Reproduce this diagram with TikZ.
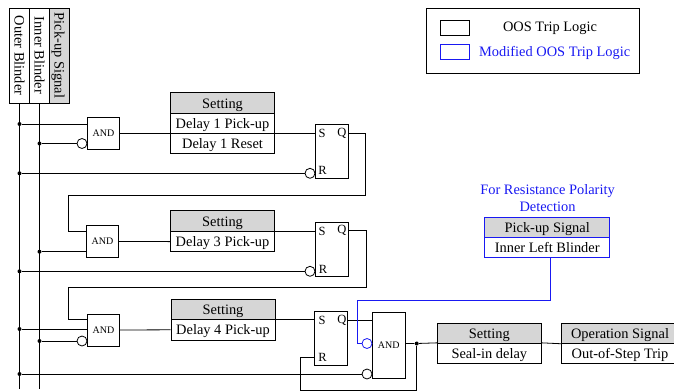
\documentclass[tikz,border=0pt]{standalone}
\usepackage{fontspec}
\setmainfont{Liberation Serif}
\usepackage{xcolor}
\definecolor{hdgray}{gray}{0.84}
\definecolor{modblue}{rgb}{0.1,0.1,0.95}
\tikzset{
  every node/.style={font=\fontsize{14.4}{17}\selectfont},
  lbl/.style={text height=13pt,text depth=3pt,inner sep=0pt},
  blinder/.style={lbl,draw,rotate=-90,minimum width=95pt,minimum height=20pt},
  andbox/.style={draw,minimum width=32pt,minimum height=32pt,inner sep=0pt,font=\fontsize{10}{12}\selectfont},
  srbox/.style={draw,minimum width=33pt,minimum height=54pt,inner sep=0pt},
  hdbox/.style={lbl,draw,fill=hdgray,minimum width=104pt,minimum height=20.3pt},
  rowbox/.style={lbl,draw,minimum width=104pt,minimum height=20.3pt},
  bubble/.style={draw,circle,fill=white,minimum size=10pt,inner sep=0pt},
  dot/.style={circle,fill=black,minimum size=4pt,inner sep=0pt},
  port/.style={inner sep=0pt,font=\fontsize{12.5}{14}\selectfont},
}
\begin{document}
\begin{tikzpicture}[x=1pt,y=-1pt,line width=0.8pt]
      \useasboundingbox (0,0) rectangle (674,391);
      \node (OB) [blinder] at (19.5,55.5) {Outer Blinder};
      \node (IB) [blinder] at (39.5,55.5) {Inner Blinder};
      \node (PS) [blinder,fill=hdgray] at (59.5,55.5) {Pick-up Signal};
      \coordinate (OBend) at (19.5,389);
      \coordinate (IBend) at (39.5,389);
      \draw (OB.east) -- (OBend);
      \draw (IB.east) -- (IBend);
%%
      \node (AND1) [andbox] at (103.5,133) {AND};
      \node (B1) [bubble] at (82,143.5) {};
      \node (D1) [dot] at (19.5,124) {};
      \node (D2) [dot] at (39.5,143.5) {};
      \node (D3) [dot] at (19.5,173.3) {};
      \node (T1) [hdbox] at (222.5,103) {Setting};
      \node (T1a) [rowbox] at (222.5,123.3) {Delay 1 Pick-up};
      \node (T1b) [rowbox] at (222.5,143.6) {Delay 1 Reset};
      \node (SR1) [srbox] at (331.5,151.3) {};
      \node (S1) [port] at (322,133) {S};
      \node (Q1) [port] at (342,133) {Q};
      \node (R1) [port] at (322.5,170) {R};
      \node (BR1) [bubble] at (310,173.3) {};
      \draw (D1) -- (D1 -| AND1.west);
      \draw (D2) -- (B1);
      \draw (D3) -- (BR1);
      \draw (AND1.east) -- (AND1.east -| SR1.west);
      \coordinate (L1a) at (365.5,133);
      \coordinate (L1b) at (365.5,195);
      \coordinate (L1c) at (68.5,195);
      \coordinate (L1d) at (68.5,231);
%%
      \node (AND2) [andbox] at (102.5,241.5) {AND};
      \node (D4) [dot] at (39.5,251.7) {};
      \node (D5) [dot] at (19.5,271.3) {};
      \node (T2) [hdbox] at (222.5,221) {Setting};
      \node (T2a) [rowbox] at (222.5,241.6) {Delay 3 Pick-up};
      \node (SR2) [srbox] at (331.5,249.7) {};
      \node (S2) [port] at (322,231) {S};
      \node (Q2) [port] at (342,230.5) {Q};
      \node (R2) [port] at (323,269) {R};
      \node (BR2) [bubble] at (310,271.3) {};
      \draw (Q1 -| SR1.east) -- (L1a) -- (L1b) -- (L1c) -- (L1d) -- (L1d -| AND2.west);
      \draw (D4) -- (D4 -| AND2.west);
      \draw (D5) -- (BR2);
      \draw (AND2.east) -- (T2a.west);
      \draw (T2a.north east) -- (T2a.north east -| SR2.west);
      \coordinate (L2a) at (366,230.5);
      \coordinate (L2b) at (366,287);
      \coordinate (L2c) at (68.5,287);
      \coordinate (L2d) at (68.5,319.5);
%%
      \node (AND3) [andbox] at (103.5,330) {AND};
      \node (B3) [bubble] at (82,341) {};
      \node (D6) [dot] at (19.5,329) {};
      \node (D7) [dot] at (39.5,341) {};
      \node (D8) [dot] at (19.5,374) {};
      \node (T3) [hdbox] at (223,309.5) {Setting};
      \node (T3a) [rowbox] at (223,329.8) {Delay 4 Pick-up};
      \node (SR3) [srbox] at (330.7,338) {};
      \node (S3) [port] at (322,320) {S};
      \node (Q3) [port] at (342,320) {Q};
      \node (R3) [port] at (322.5,357.5) {R};
      \draw (Q2 -| SR2.east) -- (L2a) -- (L2b) -- (L2c) -- (L2d) -- (L2d -| AND3.west);
      \draw (D6) -- (D6 -| AND3.west);
      \draw (D7) -- (B3);
      \draw (AND3.east) -- (T3a.west);
      \draw (T3a.north east) -- (T3a.north east -| SR3.west);
%%
      \node (AND4) [andbox,minimum width=33pt,minimum height=66pt] at (388.8,345) {AND};
      \node (B4) [bubble] at (367,374) {};
      \node (B5) [bubble,draw=modblue] at (367,343.5) {};
      \node (D9) [dot] at (416.7,343.5) {};
      \node (T4) [hdbox] at (489.3,333.2) {Setting};
      \node (T4a) [rowbox] at (489.3,353.4) {Seal-in delay};
      \node (T5) [hdbox,minimum width=116.6pt] at (620,333.2) {Operation Signal};
      \node (T5a) [rowbox,minimum width=116.6pt] at (620,353.4) {Out-of-Step Trip};
      \coordinate (L3a) at (300.5,357.5);
      \coordinate (L3b) at (300.5,390);
      \coordinate (L3c) at (416.7,390);
      \draw (Q3 -| SR3.east) -- (Q3 -| AND4.west);
      \draw (D8) -- (B4);
      \draw (AND4.east |- D9) -- (D9) -- (T4a.north west);
      \draw (T4a.north east) -- (T5.south west);
      \draw (D9) -- (L3c) -- (L3b) -- (L3a) -- (L3a -| SR3.west);
%%
      \node (Ttl) [align=center,text=modblue] at (547.5,198) {For Resistance Polarity\\Detection};
      \node (T6) [hdbox,draw=modblue,minimum width=125pt] at (547.2,227.4) {Pick-up Signal};
      \node (T6a) [rowbox,draw=modblue,minimum width=125pt] at (547.2,247.6) {Inner Left Blinder};
      \coordinate (L4a) at (550,300);
      \coordinate (L4b) at (357,300);
      \coordinate (L4c) at (357,343.5);
      \draw [color=modblue] (T6a.south -| L4a) -- (L4a) -- (L4b) -- (L4c) -- (B5);
%%
      \node (LG) [draw,minimum width=213.3pt,minimum height=65pt,inner sep=0pt] at (532.7,40.5) {};
      \node (LG1) [draw,minimum width=29pt,minimum height=14.5pt,inner sep=0pt] at (455,27.7) {};
      \node (LG2) [draw=modblue,minimum width=29pt,minimum height=14.5pt,inner sep=0pt] at (455,52) {};
      \node (LT1) [lbl] at (550,26.5) {OOS Trip Logic};
      \node (LT2) [lbl,text=modblue] at (554.7,51.5) {Modified OOS Trip Logic};
    \end{tikzpicture}
\end{document}
